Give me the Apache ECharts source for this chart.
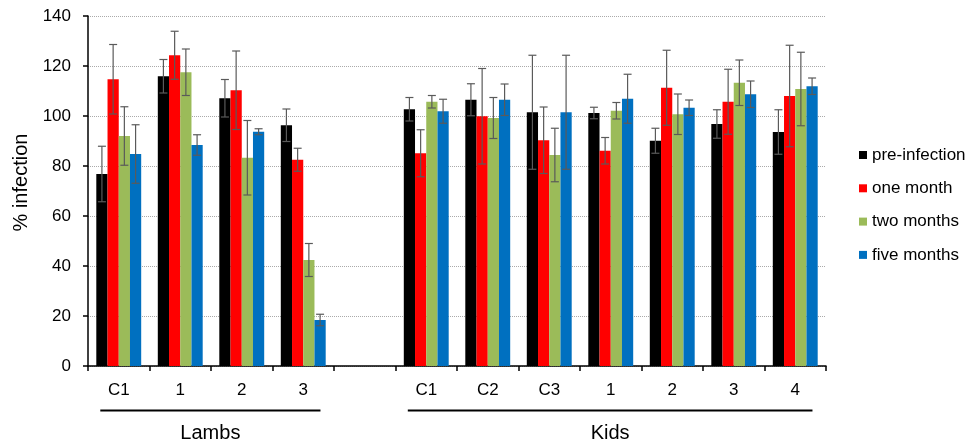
<!DOCTYPE html>
<html>
<head>
  <meta charset="utf-8" />
  <title>% infection</title>
  <script src="https://cdn.jsdelivr.net/npm/echarts@6/dist/echarts.min.js"></script>
  <style>
    html, body { margin: 0; padding: 0; background: #fff; }
    #chart-main { width: 976px; height: 443px; }
  </style>
</head>
<body>
<div id="chart-main"></div>

<script type="text/javascript">
// categories along the x axis, one empty slot between the two groups
var categories = ['C1', '1', '2', '3', '', 'C1', 'C2', 'C3', '1', '2', '3', '4'];
var seriesNames = ['pre-infection', 'one month', 'two months', 'five months'];

// bar heights (% infection)
var preInfection = [76.8, 115.9, 107.1, 96.3, null, 102.7, 106.5, 101.5, 101.2, 90.1, 96.8, 93.6];
var oneMonth     = [114.7, 124.3, 110.3, 82.5, null, 85.1, 99.9, 90.3, 86.1, 111.3, 105.7, 108.0];
var twoMonths    = [92.0, 117.5, 83.3, 42.4, null, 105.7, 99.2, 84.4, 102.1, 100.7, 113.3, 110.8];
var fiveMonths   = [84.8, 88.4, 93.7, 18.4, null, 101.9, 106.5, 101.5, 106.9, 103.3, 108.7, 111.9];

// error bar half-widths
var preErr  = [11.1, 6.7, 7.5, 6.5, null, 4.7, 6.4, 22.8, 2.3, 5.0, 5.7, 8.9];
var oneErr  = [13.9, 9.6, 15.7, 4.6, null, 9.4, 19.1, 13.3, 5.3, 15.0, 13.0, 20.3];
var twoErr  = [11.7, 9.3, 14.9, 6.6, null, 2.5, 8.2, 10.7, 3.3, 8.1, 9.1, 14.7];
var fiveErr = [11.7, 4.1, 1.2, 2.3, null, 4.8, 6.3, 22.8, 9.8, 3.1, 5.3, 3.3];

// group labels under the axis, spanning category indexes
var groupNames = ['Lambs', 'Kids'];
var groupSpans = [[0, 3], [5, 11]];

var yTicks = { min: 0, max: 140, interval: 20 };

var colors = ['#000000', '#ff0000', '#9bbb59', '#0070c0'];
var font = '"Liberation Sans", Arial, sans-serif';
var catGap = 0.27;

var myChart = echarts.init(document.getElementById('chart-main'));

function barSeries(i, values) {
  return {
    type: 'bar', name: seriesNames[i], data: values,
    barGap: '0%', barCategoryGap: (catGap * 100) + '%',
    itemStyle: { color: colors[i] },
    z: 2
  };
}

function errorSeries(i, values, errs) {
  var data = [];
  for (var k = 0; k < values.length; k++) {
    if (values[k] == null) continue;
    data.push([k, values[k] - errs[k], values[k] + errs[k]]);
  }
  return {
    type: 'custom', data: data, z: 5, silent: true,
    renderItem: function (params, api) {
      var cat = api.value(0);
      var lo = api.coord([cat, api.value(1)]);
      var hi = api.coord([cat, api.value(2)]);
      var bw = api.size([1, 0])[0] * (1 - catGap) / 4;
      var x = lo[0] + (i - 1.5) * bw;
      var cap = 4;
      var style = { stroke: '#5a5a5a', lineWidth: 1.2 };
      return {
        type: 'group',
        children: [
          { type: 'line', shape: { x1: x, y1: lo[1], x2: x, y2: hi[1] }, style: style },
          { type: 'line', shape: { x1: x - cap, y1: hi[1], x2: x + cap, y2: hi[1] }, style: style },
          { type: 'line', shape: { x1: x - cap, y1: lo[1], x2: x + cap, y2: lo[1] }, style: style }
        ]
      };
    }
  };
}

var axisLine = { show: true, lineStyle: { color: '#000', width: 1.5 } };
var axisTick = { show: true, inside: false, length: 5, lineStyle: { color: '#000', width: 1.5 } };

var option = {
  backgroundColor: '#fff',
  animation: false,
  textStyle: { fontFamily: font },
  grid: { left: 88, right: 150, top: 16, bottom: 77 },
  legend: {
    orient: 'vertical', left: 854, top: 140,
    icon: 'rect', itemWidth: 8, itemHeight: 8, itemGap: 13.3,
    data: seriesNames,
    textStyle: { fontSize: 17, color: '#000', fontFamily: font, lineHeight: 20 }
  },
  xAxis: {
    type: 'category', data: categories,
    axisLine: axisLine, axisTick: axisTick,
    axisLabel: { fontSize: 17, color: '#000', margin: 16, interval: 0 },
    splitLine: { show: false }
  },
  yAxis: {
    type: 'value', min: yTicks.min, max: yTicks.max, interval: yTicks.interval,
    name: '% infection', nameLocation: 'middle', nameRotate: 90, nameGap: 50,
    nameTextStyle: { fontSize: 20, color: '#000', padding: [0, 0, 0, 17] },
    axisLine: axisLine, axisTick: axisTick,
    axisLabel: { fontSize: 17, color: '#000', margin: 17 },
    splitLine: { show: true, lineStyle: { type: 'dotted', color: '#aaa', width: 1 } }
  },
  series: [
    barSeries(0, preInfection), barSeries(1, oneMonth), barSeries(2, twoMonths), barSeries(3, fiveMonths),
    errorSeries(0, preInfection, preErr), errorSeries(1, oneMonth, oneErr),
    errorSeries(2, twoMonths, twoErr), errorSeries(3, fiveMonths, fiveErr)
  ]
};

myChart.setOption(option);

// group brackets under the category labels
var graphics = [];
var catW = myChart.convertToPixel({ gridIndex: 0 }, [1, 0])[0] - myChart.convertToPixel({ gridIndex: 0 }, [0, 0])[0];
for (var g = 0; g < groupNames.length; g++) {
  var x1 = myChart.convertToPixel({ gridIndex: 0 }, [groupSpans[g][0], 0])[0] - catW * 0.3;
  var x2 = myChart.convertToPixel({ gridIndex: 0 }, [groupSpans[g][1], 0])[0] + catW * 0.28;
  graphics.push({
    type: 'line', shape: { x1: x1, y1: 410.5, x2: x2, y2: 410.5 },
    style: { stroke: '#000', lineWidth: 2.2 }
  });
  graphics.push({
    type: 'text', x: (x1 + x2) / 2, y: 433,
    style: { text: groupNames[g], fontSize: 20, fill: '#000', fontFamily: font, align: 'center', verticalAlign: 'middle' }
  });
}
myChart.setOption({ graphic: graphics });
</script>
</body>
</html>
